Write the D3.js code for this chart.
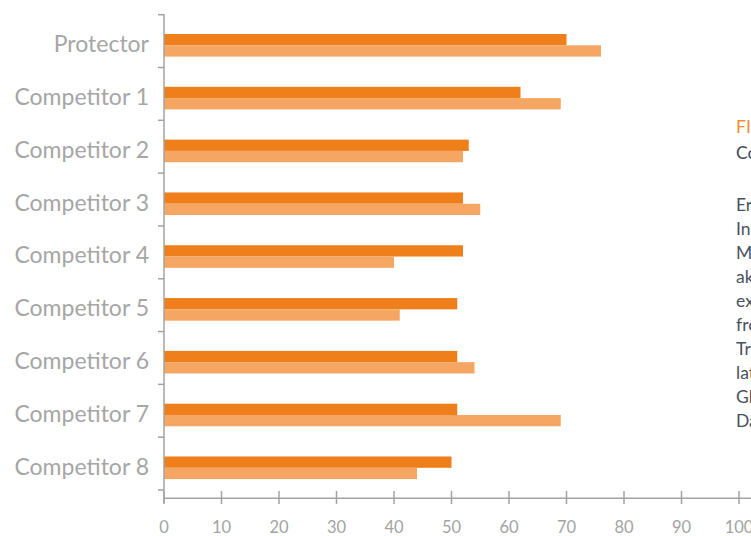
<!DOCTYPE html>
<html><head><meta charset="utf-8">
<script src="https://cdn.jsdelivr.net/npm/d3@7"></script>
<style>
html,body{margin:0;padding:0;background:#fff;overflow:hidden;}
svg{display:block;}
</style></head>
<body>
<svg id="chart" width="751" height="536"></svg>
<script>
const categories = ["Protector","Competitor 1","Competitor 2","Competitor 3","Competitor 4","Competitor 5","Competitor 6","Competitor 7","Competitor 8"];
const seriesA = [70, 62, 53, 52, 52, 51, 51, 51, 50];
const seriesB = [76, 69, 52, 55, 40, 41, 54, 69, 44];
const xTicks = [0,10,20,30,40,50,60,70,80,90,100];
const sideTitle = ["FIGURE 3", "Comparison"];
const sideBody = ["Ernst", "Independent", "Market", "akin", "experts", "from", "Trust", "latest", "Global", "Data"];

const svg = d3.select("#chart");
const x = d3.scaleLinear().domain([0,100]).range([164,739]);
const y = d3.scaleBand().domain(categories).range([14.7,490]).padding(0);
const gray = "#a3a3a3";
const dark = "#EF7F1A", light = "#F5A662";
const font = "Lato, 'Open Sans', sans-serif";

// bars
const bh = 11.3, off = 19.3;
svg.append("g").selectAll("rect").data(categories).join("rect")
  .attr("x", x(0)).attr("y", d => y(d) + off)
  .attr("width", (d,i) => x(seriesA[i]) - x(0)).attr("height", bh).attr("fill", dark);
svg.append("g").selectAll("rect").data(categories).join("rect")
  .attr("x", x(0)).attr("y", d => y(d) + off + bh)
  .attr("width", (d,i) => x(seriesB[i]) - x(0)).attr("height", bh).attr("fill", light);

// y axis
const ya = svg.append("g");
ya.append("line").attr("x1",164).attr("x2",164).attr("y1",14).attr("y2",503).attr("stroke",gray).attr("stroke-width",1.5);
const bounds = categories.map(c => y(c)).concat([y.range()[1]]);
ya.selectAll("line.t").data(bounds).join("line").attr("class","t")
  .attr("x1",158).attr("x2",164).attr("y1",d=>d).attr("y2",d=>d).attr("stroke",gray).attr("stroke-width",1.5);
ya.selectAll("text").data(categories).join("text")
  .attr("x",149).attr("y", d => y(d) + off + bh - 1.5)
  .attr("dy","0.36em").attr("text-anchor","end")
  .attr("font-family",font).attr("font-size",23).attr("fill","#a6a6a6").text(d=>d);

// x axis
const xa = svg.append("g");
xa.append("line").attr("x1",164).attr("x2",751).attr("y1",498.3).attr("y2",498.3).attr("stroke",gray).attr("stroke-width",1.5);
xa.selectAll("line.t").data(xTicks).join("line").attr("class","t")
  .attr("x1",d=>x(d)).attr("x2",d=>x(d)).attr("y1",491).attr("y2",504).attr("stroke",gray).attr("stroke-width",1.5);
xa.selectAll("text").data(xTicks).join("text")
  .attr("x",d=>x(d)).attr("y",533).attr("text-anchor","middle")
  .attr("font-family",font).attr("font-size",16.5).attr("fill",gray).text(d=>d);

// side text (clipped by window edge)
const st = svg.append("g").attr("font-family",font).attr("font-size",17.5);
st.append("text").attr("x",736).attr("y",133).attr("fill","#F28C38").text(sideTitle[0]);
st.append("text").attr("x",736).attr("y",159).attr("fill","#3f4a56").text(sideTitle[1]);
st.selectAll("text.b").data(sideBody).join("text").attr("class","b")
  .attr("x",736).attr("y",(d,i)=>211+i*24).attr("fill","#48525e").text(d=>d);
</script>
</body></html>
